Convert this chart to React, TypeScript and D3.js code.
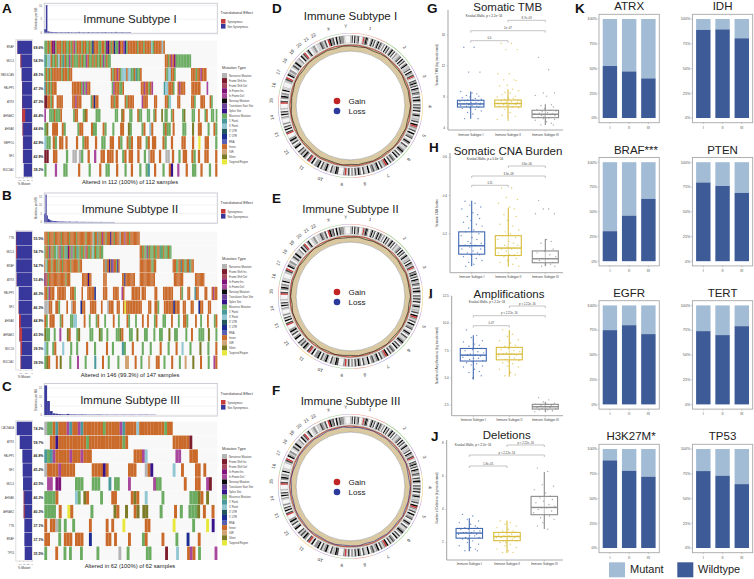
import React from 'react';
import * as d3 from 'd3';

const FONT = '"Liberation Sans", Arial, sans-serif';

// ---- oncoplots ----
const mutationTypes = ['Nonsense Mutation', 'Frame Shift Ins', 'Frame Shift Del', 'In Frame Ins', 'In Frame Del', 'Nonstop Mutation', 'Translation Start Site', 'Splice Site', 'Missense Mutation', "5' Flank", "3' Flank", "3' UTR", "5' UTR", 'RNA', 'Intron', 'IGR', 'Silent', 'Targeted Region'];
const mutationKeys = ['n', 'f', 'd', 'i', 'e', 'k', 't', 's', 'm', '3', '5', 'u', 'v', 'r', 'o', 'c', 'h', 'y'];
const mutationColors = ['#b4b4b4', '#7c1c2c', '#a8485c', '#801478', '#a8489c', '#0c0c0c', '#6a4098', '#38148c', '#6cab62', '#4a9a9c', '#92c6d2', '#24585c', '#1c2c90', '#5560b4', '#c96a2b', '#d2a474', '#7c7c28', '#e8e83c'];

const genesA = ['BRAF', 'MUC4', 'NBDSCAN', 'PALPP1', 'ATRX', 'AHNAK2', 'AHNAK', 'NBPF10', 'NF1', 'MUC5AC'];
const pctA = [69.6, 54.5, 49.1, 47.3, 47.3, 46.4, 44.6, 42.9, 42.9, 39.3];
const synA = [1, 4, 1, 1, 1, 14, 3, 1, 1, 0];
const burdenA = [1.3, 10.2, 0.5, 0.35, 0.3, 0.25, 0.2, 0.25, 0.2, 0.15, 0.2, 0.2, 0.15, 0.2, 0.15, 0.25, 0.15, 0.2, 0.15, 0.15, 0.2, 0.15, 0.3, 0.15, 0.15, 0.2, 0.15, 0.15, 0.25, 0.15, 0.15, 0.2, 0.15, 0.15, 0.2, 0.15, 0.15, 0.2, 0.15, 0.25, 0.15, 0.15, 0.15, 0.2, 0.15, 0.15, 0.3, 0.15, 0.15, 0.15, 0.2, 0.15, 0.15, 0.15, 0.15, 0.2];
const rowsA = [
  'm2 o1 m1 o1 i2 m1 o3 m1 o2 m2 o1 m1 o1 e1 m1 o3 m1 o2 m2 o1 m1 v1 o3 m2 o2 m1 i1 s1 o1 m1 o1 v1 m2 i1 o2 e1 v1 m1 o6 m1 o3 m1 o4 51 m1 o5 51 o1 .34',
  '31 m1 52 o1 m2 o1 m1 51 o1 m1 31 o1 m2 e1 m1 o1 m3 o1 m1 o1 m2 e1 o1 m2 o1 m1 o1 m2 o1 m1 e1 m1 o1 m2 .35 o2 m1 o1 e1 o1 i1 m10 .17',
  'm1 o1 m1 o1 m1 o6 m1 o3 m1 o2 .25 o1 m1 o2 e1 o1 m1 53 o1 52 m2 o1 31 m2 o1 .15 o1 m1 52 o2 m1 .10 o3 m1 o2 e1 o3 .7',
  '31 o1 m1 o1 m1 o3 .10 o6 m1 e1 m1 e1 o2 .14 m1 e1 o3 m2 o1 .11 o2 e1 o2 m1 o1 e1 .7 31 52 o3 m1 .2 o1 e1 o3 .4 o6 .4 e1 .6',
  'f2 o2 m1 o1 .2 o4 .6 o2 e1 o3 .6 m1 o1 v1 o2 .8 o2 m1 o2 .4 o1 m1 o4 .5 e1 o3 .4 o2 .5 o2 m1 51 .4 o2 .7 o2 m1 .3 o3 .3 o1 m1 .3',
  'e1 .2 m3 o1 m3 o1 .7 m1 o2 .3 m1 h1 o1 .5 m3 .9 m2 .2 h1 o1 .3 m2 .3 o1 m2 .3 m2 .2 m1 o1 .3 h1 .1 m2 .2 m1 o1 .5 m1 h1 .4 m2 .2 o1 .3 m1 o1 .2 m2 .1 m1',
  'm1 h1 .2 o3 .2 o1 m1 .6 m1 o2 .4 o1 m2 .3 o1 m1 .3 m1 .3 o2 .2 h1 m1 .5 m1 o1 .2 51 o1 .5 m1 o1 m2 .1 o1 .4 m2 .3 h1 .2 o2 .3 m1 .2 o1 m1',
  '51 m2 .1 o1 m1 .1 o2 .1 o1 .4 o1 .2 m1 o2 .3 o1 .2 m2 .2 o2 .2 o1 m1 .2 o1 m1 o1 .2 o2 .2 m1 o1 .1 o2 .3 o1 m1 .2 o1 .4 o2 .3 o1 .2 y1 .2 o2 .3 m1',
  'f2 .2 o2 .4 m1 .2 n2 .1 n1 m1 .2 o1 .2 e1 .2 o2 .1 o3 .1 o1 .2 m1 o1 .1 o2 .2 o1 .2 m1 .1 n1 o2 .2 o1 .2 n2 .1 o1 .2 m1 .1 o2 .2 o1 m1 .1 o1 .2 o2 .3 o1',
  'm1 .4 e1 .3 m2 .5 o1 .4 m1 .4 o1 .2 m2 .3 o1 .3 m1 .2 o1 .3 m1 .2 m1 31 .2 o1 .3 m1 .2 o1 s1 .2 e1 .3 o1 .2 m2 .2 o1 .3 m1 .2 o1'
];

const genesB = ['TTN', 'MUC4', 'BRAF', 'ATRX', 'PALPP1', 'NF1', 'AHNAK', 'AHNAK2', 'MUC16', 'MUC5AC'];
const pctB = [55.5, 54.7, 54.7, 53.4, 46.3, 46.3, 44.9, 43.5, 39.5, 39.5];
const synB = [1, 3, 0, 1, 0, 1, 6, 9, 5, 2];
const burdenB = [5, 16.2, 4, 2, 1.6, 1.2, 1, 0.8, 0.7, 0.7, 0.6, 0.6, 0.5, 0.5, 0.4, 0.5, 0.4, 0.4, 0.4, 0.3, 0.3, 0.5, 0.3, 0.3, 0.3, 0.3, 0.3, 0.4, 0.3, 0.25, 0.25, 0.25, 0.25, 0.3, 0.25, 0.25, 0.2, 0.25, 0.2, 0.2, 0.3, 0.2, 0.2, 0.2, 0.2, 0.2, 0.2, 0.2, 0.25, 0.2, 0.15, 0.2, 0.15, 0.2, 0.15, 0.2, 0.15, 0.15, 0.2, 0.15];
const rowsB = [
  'o3 m1 o4 m1 o5 m1 o6 m1 o5 m1 o7 m1 o5 n1 m1 o2 31 o1 m1 o1 e1 o2 m1 o3 s1 o2 m1 o4 51 o3 e1 o3 m1 o8 .66',
  'm1 o2 m1 e1 o1 m1 o1 m2 51 m1 o1 e1 m2 o1 m1 31 m1 i1 o1 m1 e1 m2 o1 m1 31 m1 o1 m2 o1 m1 e1 o1 m2 o1 m1 51 m1 o1 m3 o1 m2 .31 o2 m1 o1 m2 e1 m1 o1 m3 o1 m2 o2 31 m2 o1 m3 o1 m2 .39',
  'o1 51 m1 o3 m1 o3 m1 o1 m1 o2 m1 o6 m1 o3 o3 m1 o2 .18 o2 31 o2 s1 o1 v1 e1 o2 m1 s1 o1 .17 o10 m2 o2 .14 o3 m2 o2 31 o2 m2 o2 31 m1 o2 .20',
  'f1 e1 o1 m1 o14 m1 o3 .10 o5 s1 o2 .10 o3 .13 o2 v1 o8 .4 o13 .16 o8 .10 o8 .11',
  'o2 m1 e1 o3 .2 o6 .3 o3 m1 .4 o1 .3 o5 v1 .5 o3 .4 o4 .2 e1 o1 .5 o6 .1 o3 .6 o2 .4 o7 .5 o1 m1 .3 o2 .3 31 o2 .4 o2 .3 o1 e1 o2',
  'n3 o2 .2 o2 m1 .4 o1 .2 n1 o2 .3 v1 o2 .3 o4 .3 o1 .3 n1 o3 .2 o2 .2 o1 y1 o10 .4 o2 .2 o2 m1 .3 o6 v1 o3 .2 o2 .3 o2 .3 v1 o2 .3 o2 .4',
  'o1 m1 .1 o3 .3 m1 o1 .4 m2 52 .4 o1 .2 m1 .3 m1 o1 .3 m1 .4 o1 .2 m1 .4 o1 m1 .3 m1 .3 o1 .2 o1 .3 m1 o1 .3 m2 .3 o1 .3 m1 .2 o2 m1 .4 o1 .2 m1 .3 o1 .3 m1 o1',
  'h1 m2 .2 m1 .2 e1 .3 h1 o1 .3 m1 h1 .5 m2 .3 h1 m1 .2 m1 .4 m2 h1 o1 .3 m2 .2 h1 .3 m2 .3 m1 .2 m2 .3 h1 .2 m2 .4 m1 .2 o1 .3 m3 .2 h1 .3 m1',
  '51 m1 .2 m1 o1 .3 51 .3 m1 .2 m1 .4 o1 .3 m1 .5 o1 .2 m1 .4 31 m1 .3 o1 .4 m1 .3 m1 .4 o1 .3 m1 .3 o1 .2 51 .3 m1 .4 h1 .3 m1 .3 o1',
  'm1 h1 o1 .3 o1 .1 h1 .4 m1 .3 e1 .3 m1 .4 31 .3 o1 .2 m1 .4 m1 .3 c2 .3 o1 .2 m1 .3 c1 .3 o2 .2 m1 .3 o1 .3 m1 .2 c1 .3 h1 .3 o1 .3 m1 .2 e1 o1'
];

const genesC = ['CACNA1A', 'ATRX', 'PALPP1', 'NF1', 'MUC4', 'AHNAK', 'AHNAK2', 'TTN', 'BRAF', 'TP53'];
const pctC = [74.2, 59.7, 46.8, 45.2, 43.5, 40.3, 40.3, 37.1, 37.1, 35.5];
const synC = [0, 0, 0, 0, 0, 3, 5, 0, 0, 0];
const burdenC = [16.5, 7.8, 2.2, 0.9, 0.7, 0.5, 0.4, 0.35, 0.6, 0.3, 0.3, 0.25, 0.25, 0.3, 0.25, 0.2, 0.2, 0.2, 0.2, 0.25, 0.2, 0.15, 0.2, 0.15, 0.15, 0.2, 0.15, 0.15, 0.2, 0.15, 0.15, 0.2, 0.15, 0.15, 0.2, 0.15, 0.2, 0.15, 0.15, 0.15];
const rowsC = [
  'n1 m2 o1 31 o3 e1 31 o2 e1 31 o7 m1 o5 e1 31 o4 51 o9 m1 o2 .16',
  '.2 o2 s1 o10 m1 o12 m1 o1 .16 o6 f1 .9',
  '31 m1 31 e1 o5 e1 o3 e1 o3 .15 o3 e1 51 .10 e2 .3 o3 .7',
  'n1 o4 e1 o5 .6 o4 s1 o1 .7 o3 .3 n1 o1 s1 .7 51 .2 o1 .4 o2 .1 o1 .4',
  '.1 e2 .1 i2 .5 m3 .3 m3 .3 31 .1 m2 .3 e1 .8 e1 m2 .8 o1 .3 o2 .2 e1 f1 .2',
  'm4 o1 .6 51 m1 .1 h1 o1 .4 m1 .3 o2 .5 o1 h1 o1 .2 51 .5 m1 .9 m3 h1 o1 .1 h1 .3',
  'm4 .1 o1 .2 y1 o1 .6 m1 .7 h1 o1 .2 h1 .2 o1 h1 .1 h2 .4 m1 .4 o1 .1 m1 .2 m3 h1 .1 o1 .2 o1 .1',
  'o1 .1 o2 n1 m1 .1 m1 .2 m1 .5 o1 .5 o1 .1 o1 .3 y1 .7 o2 .8 y1 .6 m1 .4 y1 .1 s1 .1',
  'o2 .3 m1 .1 o3 .1 o3 .2 v1 .5 o2 .1 o1 .4 o1 .4 m1 o1 .5 o1 .4 m1 .3 v1 .3 o1 .6',
  'm1 .3 o1 .2 m1 .1 m1 .3 m1 .5 m1 .7 n1 .2 m1 .6 m2 .5 f1 .3 51 .3 o1 e1 o1 .1 m1 .5 e1'
];

// ---- circos ----
const chromosomes = ['1', '2', '3', '4', '5', '6', '7', '8', '9', '10', '11', '12', '13', '14', '15', '16', '17', '18', '19', '20', '21', '22', 'X', 'Y'];
const chromLengths = [249, 243, 198, 191, 181, 171, 159, 146, 141, 136, 135, 134, 115, 107, 103, 90, 81, 78, 59, 63, 48, 51, 155, 59];
const chromColors = ['#e8a090', '#a4cc90', '#c4a4dc', '#f2cc80', '#c8a4d4', '#a4d494', '#a8a8e4'];
const bandStrings = [
  '1304123001r2431024130241320', '2041302413021123041302411', '1304213r103241304213', '20314203131402411', '1304r21304123014', '203112420314023',
  '1304r21304213', '204113024130', '2031r2000341', '13014213042', '2041r302413', '13004203142', '000r3041302', '00012041301', '000r30241', '20411000', '13r0421', '201314', '11204', '13r024', '012', '0113', '2130r42304132', '21000'
];
const bandColors: Record<string, string> = { '0': '#f4f4f4', '1': '#cfcfcf', '2': '#979797', '3': '#4c4c4c', '4': '#0a0a0a', r: '#d03838' };
const gainTracks = [
  [.7, .9, .6, .8, 1, .7, .6, .8, .5, .7, .9, .6, .7, .5, .8, .6, .7, .9, .5, .6, .8, .7, .6, .9, .7, .5, .8, .6, 1, .7, .6, .8, .5, .9, .7, .6, .8, .5, .7, .6, .9, .8, .5, .7, .6, .8, .9, .6],
  [.6, .8, .9, .6, .7, .5, .9, .7, .6, .8, .5, .7, .6, .9, .6, .8, .5, .7, .8, .6, .9, .5, .7, .6, .8, .7, .5, .9, .6, .8, .7, .6, .9, .5, .7, .8, .6, .7, .9, .5, .6, .8, .7, .6, .9, .7, .5, .8],
  [.8, .6, .7, .5, .9, .6, .8, .7, .5, .6, .8, .9, .6, .7, .5, .8, .7, .6, .5, .8, .6, .9, .7, .5, .6, .8, .7, .6, .5, .9, .6, .7, .8, .5, .6, .7, .9, .6, .5, .8, .7, .6, .8, .5, .7, .9, .6, .7]
];
const lossTracks = [
  [.5, .3, .6, .2, .5, .7, .3, .4, .6, .2, .5, .3, .7, .4, .2, .6, .3, .5, .7, .2, .4, .6, .3, .5, .2, .7, .4, .3, .6, .5, .2, .4, .7, .3, .5, .6, .2, .4, .3, .7, .5, .2, .6, .4, .3, .5, .2, .6],
  [.3, .6, .2, .5, .4, .7, .3, .5, .2, .6, .4, .3, .7, .2, .5, .4, .6, .3, .2, .7, .4, .5, .3, .6, .2, .4, .7, .3, .5, .2, .6, .4, .3, .5, .7, .2, .6, .4, .5, .3, .6, .2, .4, .7, .3, .5, .6, .2],
  [.2, .5, .4, .7, .3, .6, .2, .4, .5, .7, .3, .2, .6, .4, .5, .3, .7, .2, .4, .6, .3, .5, .2, .7, .4, .3, .6, .5, .2, .4, .7, .3, .5, .6, .2, .4, .3, .7, .5, .2, .6, .4, .3, .5, .2, .6, .4, .7]
];

// ---- box plots ----
const subtypeNames = ['Immune Subtype I', 'Immune Subtype II', 'Immune Subtype III'];
const boxColors = ['#4169b2', '#d8bc3c', '#8c8c8c'];
const jitterOffsets = [-.62, .31, -.18, .84, -.91, .12, .55, -.4, .73, -.07, -.76, .42, .96, -.28, .2, -.55, .66, -.97, .03, .48, -.34, .88, -.12];

const tmbStats = [[5.2, 6.7, 7.1, 7.57, 8.7], [5.1, 6.72, 7.15, 7.6, 9], [4.39, 5.33, 5.77, 6.28, 7.06]];
const tmbPoints = [
  [14.4, 14.4, 11.2, 11.2, 8.7, 8.5, 8.4, 8.2, 8.1, 8, 7.9, 7.8, 7.7, 7.6, 7.6, 7.5, 7.5, 7.4, 7.3, 7.3, 7.2, 7.2, 7.1, 7.1, 7.1, 7, 7, 6.9, 6.9, 6.8, 6.8, 6.7, 6.6, 6.5, 6.4, 6.2, 6, 5.8, 5.2, 5.2],
  [14.9, 14.9, 14.1, 14.1, 11, 11, 10.2, 10.2, 10.1, 9.5, 9.4, 9, 8.8, 8.6, 8.5, 8.3, 8.1, 8, 7.9, 7.8, 7.7, 7.6, 7.5, 7.5, 7.4, 7.3, 7.3, 7.2, 7.1, 7.1, 7, 7, 6.9, 6.8, 6.7, 6.6, 6.4, 6, 5.6, 5.5, 5.1, 5],
  [13.1, 11.5, 8.5, 8.5, 8.2, 8.1, 7, 6.9, 6.7, 6.5, 6.4, 6.3, 6.2, 6.1, 6, 5.9, 5.8, 5.8, 5.7, 5.7, 5.6, 5.6, 5.5, 5.4, 5.3, 5.2, 5.1, 5, 4.8, 4.6, 4.4, 4.4]
];
const cnaStats = [[.03, .093, .137, .21, .373], [.027, .086, .125, .19, .336], [.03, .048, .069, .11, .172]];
const cnaPoints = [
  [.37, .36, .35, .34, .33, .31, .3, .29, .28, .27, .26, .25, .24, .23, .22, .21, .2, .19, .18, .17, .16, .15, .15, .14, .14, .13, .12, .12, .11, .1, .1, .09, .09, .08, .07, .06, .05, .04, .03],
  [.44, .44, .39, .38, .36, .34, .33, .3, .29, .27, .25, .24, .22, .21, .2, .19, .18, .17, .16, .15, .14, .14, .13, .12, .12, .11, .1, .1, .09, .09, .08, .07, .06, .05, .04, .03],
  [.375, .33, .33, .305, .305, .17, .16, .15, .12, .11, .1, .09, .08, .07, .07, .06, .05, .05, .04, .04, .03, .03]
];
const ampStats = [[4.87, 6.55, 7.09, 7.7, 8.92], [5.11, 6.66, 7.18, 7.8, 9.38], [1.92, 2.16, 2.37, 2.59, 2.83]];
const ampPoints = [
  [9.4, 8.9, 8.7, 8.4, 8.3, 8.1, 8, 7.9, 7.7, 7.6, 7.5, 7.4, 7.3, 7.2, 7.1, 7.1, 7, 6.9, 6.8, 6.8, 6.7, 6.6, 6.5, 6.4, 6.3, 6.2, 6.1, 6, 5.8, 5.6, 5.5, 5.2, 5],
  [9.4, 9, 8.8, 8.5, 8.4, 8.2, 8, 7.9, 7.8, 7.7, 7.6, 7.5, 7.4, 7.3, 7.2, 7.2, 7.1, 7, 6.9, 6.8, 6.7, 6.6, 6.5, 6.4, 6.3, 6.1, 6, 5.8, 5.5, 5.3, 5.2],
  [3.2, 3, 2.8, 2.7, 2.6, 2.6, 2.5, 2.5, 2.4, 2.4, 2.3, 2.3, 2.2, 2.2, 2.1, 2.1, 2, 1.9, 1.9]
];
const delStats = [[1.47, 2.26, 2.57, 2.85, 3.47], [1.37, 2.11, 2.36, 2.61, 3.33], [2.81, 3.68, 4.12, 4.79, 6.26]];
const delPoints = [
  [3.7, 3.6, 3.4, 3.3, 3.2, 3.1, 3, 2.9, 2.9, 2.8, 2.8, 2.7, 2.7, 2.6, 2.6, 2.6, 2.5, 2.5, 2.4, 2.4, 2.3, 2.3, 2.2, 2.2, 2.1, 2, 1.9, 1.8, 1.7, 1.6, 1.5, 1.5],
  [3.3, 3.2, 3.1, 3, 2.9, 2.8, 2.7, 2.7, 2.6, 2.6, 2.5, 2.5, 2.4, 2.4, 2.4, 2.3, 2.3, 2.3, 2.2, 2.2, 2.1, 2.1, 2, 2, 1.9, 1.8, 1.7, 1.6, 1.5, 1.4, 1.4],
  [6.5, 6.3, 5.5, 5.4, 5.2, 5, 4.8, 4.7, 4.6, 4.5, 4.4, 4.3, 4.2, 4.1, 4.1, 4, 3.9, 3.8, 3.7, 3.6, 3.5, 3.4, 3.2, 3, 2.8]
];

// ---- mutant / wildtype bars ----
const subtypeTicks = ['I', 'II', 'III'];
const stackGenes = ['ATRX', 'IDH', 'BRAF***', 'PTEN', 'EGFR', 'TERT', 'H3K27M*', 'TP53'];
const wildAtrx = [52.5, 47, 40];
const wildIdh = [89, 89.5, 80.5];
const wildBraf = [30.3, 46, 63];
const wildPten = [79.5, 76, 69];
const wildEgfr = [75, 80, 71];
const wildTert = [74, 70, 79];
const wildH3 = [88.5, 78, 72];
const wildTp53 = [77.7, 73, 64.5];
const wildtypeValues = [wildAtrx, wildIdh, wildBraf, wildPten, wildEgfr, wildTert, wildH3, wildTp53];

const parseRuns = (row: string) => {
  const cells: string[] = [];
  row.split(' ').forEach(tok => {
    const key = tok[0];
    const count = +tok.slice(1);
    for (let i = 0; i < count; i++) cells.push(key);
  });
  return cells;
};

const Oncoplot = ({ top, bottom, topA, topB, title, caption, genes, pct, syn, burden, rows, samples, yMax, yTicks, pctMax, pctLeft, pctTicks, legendY, mutY }: any) => {
  const left = 44.3;
  const right = 217.3;
  const x = d3.scaleBand<number>().domain(d3.range(samples)).range([left, right]);
  const y = d3.scaleBand<number>().domain(d3.range(genes.length)).range([top, bottom]).paddingInner(0.03);
  const by = d3.scaleLinear().domain([0, yMax]).range([topB - 1, topA + 1]);
  const px = d3.scaleLinear().domain([0, pctMax]).range([32, pctLeft]);
  const color = d3.scaleOrdinal<string, string>().domain(mutationKeys).range(mutationColors);
  return (
    <g>
      <rect x={left} y={topA} width={right - left} height={topB - topA} fill="#fff" stroke="#c9c9d2" strokeWidth={0.9} />
      {yTicks.map((t: number) => (
        <g key={t}>
          <line x1={left} x2={right} y1={by(t)} y2={by(t)} stroke="#e6e6e6" strokeWidth={0.5} />
          <text x={42} y={by(t) + 1} fontSize={2.6} textAnchor="end" fill="#555">{t}</text>
        </g>
      ))}
      {burden.map((v: number, i: number) => (
        <rect key={i} x={x(i)} y={by(v)} width={x.bandwidth()} height={by(0) - by(v)} fill="#3c3c9e" />
      ))}
      <text transform={`translate(37,${(topA + topB) / 2}) rotate(-90)`} fontSize={2.8} textAnchor="middle" fill="#444">Mutations per MB</text>
      <text x={130} y={(topA + topB) / 2 + 4.5} fontSize={11.5} textAnchor="middle" fill="#222">{title}</text>

      <rect x={15.8} y={top - 1} width={16.7} height={bottom - top + 2} fill="none" stroke="#d8d8d8" strokeWidth={0.8} />
      {genes.map((g: string, i: number) => {
        const yy = y(i)!;
        const h = y.bandwidth();
        return (
          <g key={g}>
            <text x={14} y={yy + h / 2 + 1} fontSize={2.7} textAnchor="end" fill="#444">{g}</text>
            <rect x={px(pct[i])} y={yy} width={32 - px(pct[i])} height={h} fill="#38389c" />
            {syn[i] > 0 && <rect x={px(pct[i])} y={yy} width={32 - px(syn[i])} height={h} fill="#c43c3c" />}
            <text x={38.5} y={yy + h / 2 + 1.3} fontSize={3.5} fontWeight="bold" textAnchor="middle" fill="#222">{pct[i].toFixed(1)}%</text>
          </g>
        );
      })}
      {pctTicks.map((t: number) => (
        <g key={t}>
          <line x1={px(t)} x2={px(t)} y1={bottom + 1} y2={bottom + 2} stroke="#888" strokeWidth={0.3} />
          <text x={px(t)} y={bottom + 4.5} fontSize={2.2} textAnchor="middle" fill="#555">{t === 0 ? '0' : `-${t}`}</text>
        </g>
      ))}
      <text x={24} y={bottom + 8.5} fontSize={3} textAnchor="middle" fill="#333">% Mutant</text>

      {rows.map((row: string, r: number) => {
        const cells = parseRuns(row);
        // rows are read by eye, so each one is fitted to the full matrix width
        const rx = d3.scaleBand<number>().domain(d3.range(cells.length)).range([left, right]);
        return (
          <g key={r}>
            <rect x={left} y={y(r)} width={right - left} height={y.bandwidth()} fill="#f8f8f8" />
            {cells.map((c, i) => c !== '.' ? (
              <rect key={i} x={rx(i)} y={y(r)} width={rx.bandwidth() + 0.1} height={y.bandwidth()} fill={color(c)} />
            ) : null)}
          </g>
        );
      })}
      <text x={130} y={bottom + 7.5} fontSize={5.8} textAnchor="middle" fill="#222">{caption}</text>

      <text x={220.5} y={legendY} fontSize={3.8} fill="#333">Translational Effect</text>
      {['Synonymous', 'Non Synonymous'].map((s, i) => (
        <g key={s}>
          <rect x={221} y={legendY + 5 + i * 5} width={4.5} height={4.6} fill={i ? '#38389c' : '#c43c3c'} />
          <text x={227.5} y={legendY + 8.5 + i * 5} fontSize={2.6} fill="#444">{s}</text>
        </g>
      ))}
      <text x={222} y={mutY} fontSize={3.8} fill="#333">Mutation Type</text>
      {mutationTypes.map((m, i) => (
        <g key={m}>
          <rect x={222} y={mutY + 4 + i * 5.08} width={5} height={5.08} fill={mutationColors[i]} />
          <text x={229} y={mutY + 7.5 + i * 5.08} fontSize={2.6} fill="#444">{m}</text>
        </g>
      ))}
    </g>
  );
};

const Circos = ({ cx, cy, title, titleY, gain, loss, lossColor }: any) => {
  const pie = d3.pie<number>().sort(null).value(d => d).padAngle(0.004);
  const arcs = pie(chromLengths);
  const arc = d3.arc<any>();
  const ring = (s: number, e: number, r0: number, r1: number) => arc({ startAngle: s, endAngle: e, innerRadius: r0, outerRadius: r1 })!;
  const angle = d3.scaleLinear().domain([0, gain.length]).range([0, Math.PI * 2]);
  const radial = d3.lineRadial<number>().angle((_, i) => angle(i)).curve(d3.curveLinearClosed);
  return (
    <g>
      <text x={cx} y={titleY} fontSize={11.5} textAnchor="middle" fill="#222">{title}</text>
      <g transform={`translate(${cx},${cy})`}>
        <circle r={57.8} fill="none" stroke="#d9c8a0" strokeWidth={6.6} />
        <circle r={54.4} fill="none" stroke="#555" strokeWidth={0.35} />
        <circle r={61.3} fill="none" stroke="#666" strokeWidth={0.4} />
        <path d={radial.radius(d => 58.8 + d * 2.2)(gain)!} fill="none" stroke="#b92a2a" strokeWidth={0.7} />
        <path d={radial.radius(d => 58.4 + d * 2.4)(loss)!} fill="none" stroke={lossColor} strokeWidth={0.6} />
        {arcs.map((a, i) => {
          const bands = bandStrings[i].split('');
          const bx = d3.scaleBand<number>().domain(d3.range(bands.length)).range([a.startAngle, a.endAngle]);
          const mid = (a.startAngle + a.endAngle) / 2;
          const lr = 79.5;
          const deg = (mid * 180) / Math.PI;
          return (
            <g key={chromosomes[i]}>
              <path d={ring(a.startAngle, a.endAngle, 72, 72.6)} fill={chromColors[i % chromColors.length]} />
              {bands.map((b, j) => (
                <path key={j} d={ring(bx(j)!, bx(j)! + bx.bandwidth(), 62.5, 70)} fill={bandColors[b]} />
              ))}
              <path d={ring(a.startAngle, a.endAngle, 62.5, 70)} fill="none" stroke="#777" strokeWidth={0.25} />
              <text transform={`translate(${lr * Math.sin(mid)},${-lr * Math.cos(mid)}) rotate(${deg})`} fontSize={4.6} textAnchor="middle" dy={1.6} fill="#333">{chromosomes[i]}</text>
            </g>
          );
        })}
      </g>
      <circle cx={cx - 13.5} cy={cy - 4.5} r={3.3} fill="#c02424" />
      <circle cx={cx - 13.5} cy={cy + 5.5} r={3.3} fill="#2c3a9c" />
      <text x={cx - 2} y={cy - 1.7} fontSize={8} fill="#222">Gain</text>
      <text x={cx - 2} y={cy + 8.3} fontSize={8} fill="#222">Loss</text>
    </g>
  );
};

const BoxPanel = ({ axisX, axisRight, top, bottom, vMin, vMax, ticks, tickFmt, centers, boxW, stats, points, title, titleX, titleY, kw, kwX, kwY, brackets, yLabel, yLabelY, xLabelY }: any) => {
  const y = d3.scaleLinear().domain([vMin, vMax]).range([bottom, top]);
  const x = d3.scaleOrdinal<number, number>().domain([0, 1, 2]).range(centers);
  return (
    <g>
      <text x={titleX} y={titleY} fontSize={11.5} textAnchor="middle" fill="#222">{title}</text>
      <line x1={axisX} x2={axisX} y1={top} y2={bottom} stroke="#999" strokeWidth={0.9} />
      <line x1={axisX} x2={axisRight} y1={bottom} y2={bottom} stroke="#aaa" strokeWidth={1} />
      {ticks.map((t: number) => (
        <g key={t}>
          <line x1={axisX - 1.5} x2={axisX} y1={y(t)} y2={y(t)} stroke="#999" strokeWidth={0.4} />
          <text x={axisX - 3} y={y(t) + 1} fontSize={3} textAnchor="end" fill="#444">{tickFmt(t)}</text>
        </g>
      ))}
      <text transform={`translate(438,${yLabelY}) rotate(-90)`} fontSize={3} textAnchor="middle" fill="#444">{yLabel}</text>
      <text x={kwX} y={kwY} fontSize={3} textAnchor="middle" fill="#333">{kw}</text>
      {subtypeNames.map((name, g) => {
        const cx = x(g);
        const [lo, q1, med, q3, hi] = stats[g];
        return (
          <g key={name}>
            <line x1={cx} x2={cx} y1={bottom} y2={bottom + 1.5} stroke="#888" strokeWidth={0.4} />
            <text x={cx} y={xLabelY} fontSize={3.1} textAnchor="middle" fill="#444">{name}</text>
            <line x1={cx} x2={cx} y1={y(hi)} y2={y(lo)} stroke={boxColors[g]} strokeWidth={1.1} />
            <rect x={cx - boxW / 2} y={y(q3)} width={boxW} height={y(q1) - y(q3)} fill="#fff" fillOpacity={0.5} stroke={boxColors[g]} strokeWidth={1.1} />
            <line x1={cx - boxW / 2} x2={cx + boxW / 2} y1={y(med)} y2={y(med)} stroke={boxColors[g]} strokeWidth={1.4} />
            {points[g].map((v: number, i: number) => (
              <circle key={i} cx={cx + jitterOffsets[i % jitterOffsets.length] * (boxW / 2.4)} cy={y(v)} r={0.7} fill={boxColors[g]} fillOpacity={0.75} />
            ))}
          </g>
        );
      })}
      {brackets.map((b: any, i: number) => (
        <g key={i}>
          <path d={`M${x(b.from)},${b.y + 2}V${b.y}H${x(b.to)}V${b.y + 2}`} fill="none" stroke="#888" strokeWidth={0.5} />
          <text x={(x(b.from) + x(b.to)) / 2} y={b.y - 1.3} fontSize={2.8} textAnchor="middle" fill="#444">{b.label}</text>
        </g>
      ))}
    </g>
  );
};

const StackPanel = ({ x0, y0, name, wild }: any) => {
  const w = 60.3;
  const h = 108.4;
  const x = d3.scaleBand<string>().domain(subtypeTicks).range([x0 + 1.3, x0 + w - 1.3]).paddingInner(0.25).paddingOuter(0.125);
  const y = d3.scaleLinear().domain([0, 100]).range([y0 + 103.7, y0 + 4.7]);
  const titleX = name === 'BRAF***' ? x0 + 37 : name === 'H3K27M*' ? x0 + 32 : x0 + w / 2;
  return (
    <g>
      <text x={titleX} y={y0 - 4} fontSize={11.5} textAnchor="middle" fill="#222">{name}</text>
      <rect x={x0} y={y0} width={w} height={h} fill="#fff" stroke="#a8a8a8" strokeWidth={0.9} />
      {[0, 25, 50, 75, 100].map(t => (
        <g key={t}>
          <line x1={x0 - 1.5} x2={x0} y1={y(t)} y2={y(t)} stroke="#888" strokeWidth={0.4} />
          <text x={x0 - 2} y={y(t) + 1.3} fontSize={3.8} textAnchor="end" fill="#555">{t}%</text>
        </g>
      ))}
      {subtypeTicks.map((s, i) => (
        <g key={s}>
          <rect x={x(s)} y={y(100)} width={x.bandwidth()} height={y(wild[i]) - y(100)} fill="#a3bcd6" />
          <rect x={x(s)} y={y(wild[i])} width={x.bandwidth()} height={y(0) - y(wild[i])} fill="#3c5b97" />
          <line x1={x(s)! + x.bandwidth() / 2} x2={x(s)! + x.bandwidth() / 2} y1={y0 + h} y2={y0 + h + 1.5} stroke="#888" strokeWidth={0.4} />
          <text x={x(s)! + x.bandwidth() / 2} y={y0 + h + 6} fontSize={3.8} textAnchor="middle" fill="#555">{s}</text>
        </g>
      ))}
    </g>
  );
};

const panelLetters = [['A', 2, 12.5], ['B', 2, 200], ['C', 2, 391], ['D', 272, 12.5], ['E', 272, 203], ['F', 272, 395], ['G', 427, 12.5], ['H', 429, 152], ['I', 429, 298], ['J', 431, 441], ['K', 575, 13]];

export default function App() {
  const num = (t: number) => `${t}`;
  const stackCols = [599, 692.4];
  const stackRows = [14.3, 157.5, 300.7, 444.3];
  return (
    <svg width={754} height={579} style={{ position: 'absolute', left: 0, top: 0, background: '#fff' }} fontFamily={FONT}>
      {panelLetters.map(([l, x, y]) => (
        <text key={l as string} x={x as number} y={y as number} fontSize={13.5} fontWeight="bold" fill="#111">{l}</text>
      ))}

      <Oncoplot top={40.7} bottom={176.7} topA={3.3} topB={33.7} title="Immune Subtype I" caption="Altered in 112 (100%) of 112 samples"
        genes={genesA} pct={pctA} syn={synA} burden={burdenA} rows={rowsA} samples={112} yMax={10.5} yTicks={[0, 5, 10]} pctMax={69.6} pctLeft={17.3} pctTicks={[60, 40, 20, 0]} legendY={14} mutY={69} />
      <Oncoplot top={231.7} bottom={369} topA={193} topB={223.3} title="Immune Subtype II" caption="Altered in 146 (99.3%) of 147 samples"
        genes={genesB} pct={pctB} syn={synB} burden={burdenB} rows={rowsB} samples={147} yMax={16.5} yTicks={[0, 5, 10, 15]} pctMax={55.5} pctLeft={16} pctTicks={[40, 20, 0]} legendY={204} mutY={260} />
      <Oncoplot top={421.7} bottom={560} topA={383.5} topB={416} title="Immune Subtype III" caption="Altered in 62 (100%) of 62 samples"
        genes={genesC} pct={pctC} syn={synC} burden={burdenC} rows={rowsC} samples={62} yMax={17} yTicks={[0, 5, 10, 15]} pctMax={74.2} pctLeft={16.7} pctTicks={[60, 40, 20, 0]} legendY={395} mutY={450} />

      <Circos cx={350.5} cy={105.5} title="Immune Subtype I" titleY={20} gain={gainTracks[0]} loss={lossTracks[0]} lossColor="#111" />
      <Circos cx={350.5} cy={296.5} title="Immune Subtype II" titleY={213} gain={gainTracks[1]} loss={lossTracks[1]} lossColor="#111" />
      <Circos cx={350.5} cy={486.5} title="Immune Subtype III" titleY={405} gain={gainTracks[2]} loss={lossTracks[2]} lossColor="#24248c" />

      <BoxPanel axisX={448} axisRight={563} top={10} bottom={130} vMin={3.74} vMax={19.2} ticks={[4, 8, 12, 16]} tickFmt={num}
        centers={[470.7, 508, 545.3]} boxW={26.5} stats={tmbStats} points={tmbPoints} title="Somatic TMB" titleX={507.7} titleY={11} kw="Kruskal-Wallis, p < 2.2e−16" kwX={484} kwY={16.5}
        brackets={[{ from: 1, to: 2, y: 20.3, label: '8.7e−09' }, { from: 0, to: 2, y: 30.7, label: '1e−07' }, { from: 0, to: 1, y: 40.7, label: '0.4' }]}
        yLabel="Somatic TMB (log transformed)" yLabelY={65} xLabelY={135.5} />
      <BoxPanel axisX={450} axisRight={563} top={153} bottom={272.7} vMin={-0.004} vMax={0.623} ticks={[0.2, 0.4, 0.6]} tickFmt={(t: number) => t.toFixed(1)}
        centers={[471.7, 508.3, 545.3]} boxW={26} stats={cnaStats} points={cnaPoints} title="Somatic CNA Burden" titleX={508} titleY={155} kw="Kruskal-Wallis, p = 5.4e−16" kwX={485} kwY={160}
        brackets={[{ from: 1, to: 2, y: 166, label: '3.6e−06' }, { from: 0, to: 2, y: 176, label: '3.3e−09' }, { from: 0, to: 1, y: 185.3, label: '0.11' }]}
        yLabel="Somatic CNA burden" yLabelY={213} xLabelY={278} />
      <BoxPanel axisX={451.7} axisRight={563} top={296} bottom={415.7} vMin={1.55} vMax={12.5} ticks={[2.5, 5, 7.5, 10, 12.5]} tickFmt={(t: number) => t.toFixed(1)}
        centers={[473.3, 509.3, 545.3]} boxW={26} stats={ampStats} points={ampPoints} title="Amplifications" titleX={509} titleY={297.5} kw="Kruskal-Wallis, p < 2.2e−16" kwX={487} kwY={302.5}
        brackets={[{ from: 1, to: 2, y: 306, label: 'p < 2.22e−16' }, { from: 0, to: 2, y: 315.7, label: 'p < 2.22e−16' }, { from: 0, to: 1, y: 325.7, label: '0.47' }]}
        yLabel="Number of Amplifications (log transformed)" yLabelY={355.7} xLabelY={421} />
      <BoxPanel axisX={446.7} axisRight={563} top={440} bottom={560} vMin={0.94} vMax={8.2} ticks={[2, 4, 6, 8]} tickFmt={num}
        centers={[469.3, 507, 544.3]} boxW={26.5} stats={delStats} points={delPoints} title="Deletions" titleX={506.7} titleY={438.5} kw="Kruskal-Wallis, p < 2.2e−16" kwX={473} kwY={446}
        brackets={[{ from: 1, to: 2, y: 445, label: 'p < 2.22e−16' }, { from: 0, to: 2, y: 455, label: 'p < 2.22e−16' }, { from: 0, to: 1, y: 466, label: '1.8e−05' }]}
        yLabel="Number of Deletions (log transformed)" yLabelY={498} xLabelY={564.5} />

      {stackGenes.map((g, i) => (
        <StackPanel key={g} x0={stackCols[i % 2]} y0={stackRows[Math.floor(i / 2)]} name={g} wild={wildtypeValues[i]} />
      ))}
      <rect x={609} y={562.3} width={16} height={15} fill="#a3bcd6" />
      <text x={630} y={573.2} fontSize={11} fill="#222">Mutant</text>
      <rect x={677.3} y={562.3} width={16} height={15} fill="#3c5b97" />
      <text x={698} y={573.2} fontSize={11} fill="#222">Wildtype</text>
    </svg>
  );
}
